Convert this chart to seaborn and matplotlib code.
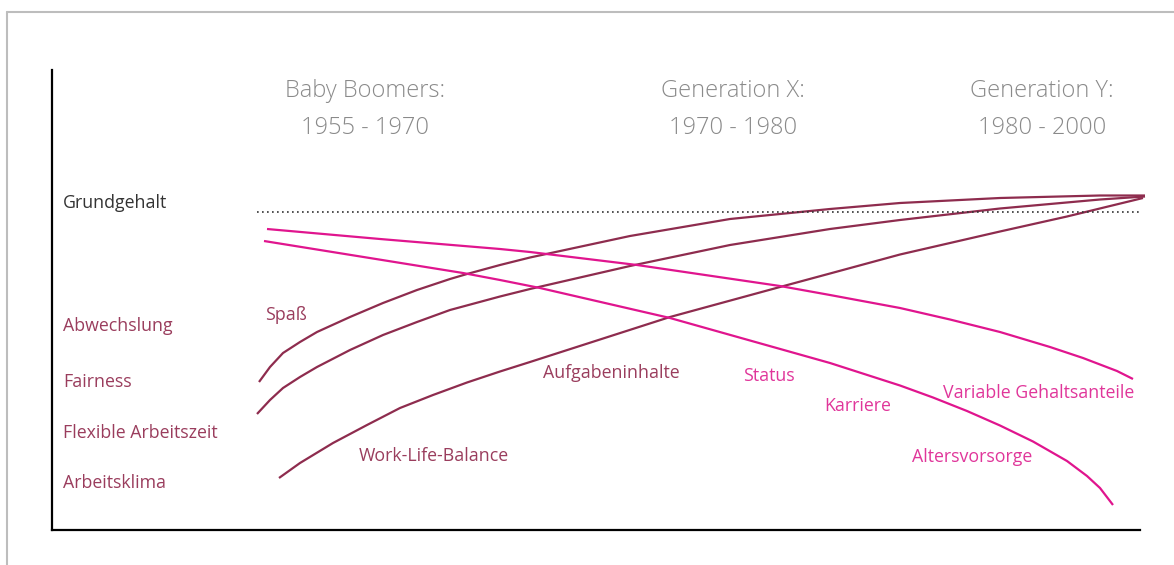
import matplotlib
matplotlib.use("Agg")
import matplotlib.pyplot as plt
from matplotlib.lines import Line2D
import seaborn as sns
import pandas as pd

# ---- data (in chart coordinates) ----
spass_x = [259, 270, 283, 300, 317, 350, 383, 417, 450, 467, 500, 530, 630, 730, 830, 900, 1000, 1100, 1145]
spass_y = [382, 367, 353, 342, 332, 317, 303, 290, 279, 274, 265, 257.5, 236, 219, 209, 203, 198, 195.5, 195.5]

fairness_x = [257, 270, 283, 300, 317, 350, 383, 417, 450, 500, 530, 630, 730, 830, 900, 1000, 1100, 1145]
fairness_y = [414, 400, 388, 377, 367, 350, 335, 322, 310, 296.5, 289, 266, 245, 229, 220, 208.5, 199.5, 196.5]

wlb_x = [279, 300, 333, 367, 400, 433, 467, 500, 530, 670, 780, 830, 900, 1000, 1067, 1143]
wlb_y = [478, 463, 443, 425, 408, 395, 382.5, 371.5, 362, 317, 287, 273.5, 254.5, 231.5, 216.5, 198]

var_x = [267, 380, 500, 530, 637, 780, 830, 900, 950, 1000, 1050, 1083, 1117, 1133]
var_y = [229, 239, 249, 252, 265, 286, 295, 308, 319.5, 332, 347, 358, 371, 379]

alt_x = [264, 463, 500, 540, 670, 830, 900, 933, 967, 1000, 1033, 1067, 1087, 1100, 1113]
alt_y = [241, 273, 280, 288, 318, 363, 385.5, 397.5, 411, 425.5, 441.5, 461, 476, 488, 505]

grund_x = [257, 1145]
grund_y = [212, 212]

headers = ["Baby Boomers:", "Generation X:", "Generation Y:"]
header_years = ["1955 - 1970", "1970 - 1980", "1980 - 2000"]
header_x = [365, 733, 1042]

left_labels = ["Abwechslung", "Fairness", "Flexible Arbeitszeit", "Arbeitsklima"]
left_label_y = [326, 382, 433, 483]

dark_labels = ["Spaß", "Work-Life-Balance", "Aufgabeninhalte"]
dark_label_x = [265, 359, 543]
dark_label_y = [315, 456, 373]

pink_labels = ["Status", "Karriere", "Variable Gehaltsanteile", "Altersvorsorge"]
pink_label_x = [743, 824, 943, 912]
pink_label_y = [376, 406, 393, 457]

# ---- style ----
sns.set_theme(style="white")
plt.rcParams["font.family"] = ["Open Sans", "DejaVu Sans"]

DARK = "#8e2c4e"
DARK_TXT = "#9a3d5d"
PINK = "#e0158e"
PINK_TXT = "#e0369a"
GRAY_TXT = "#8a8a8a"
FS = 12.8

W, H = 1174, 565
fig = plt.figure(figsize=(W / 100, H / 100), dpi=100)
fig.patch.set_facecolor("white")

# outer gray frame
fig.add_artist(Line2D([7 / W, 1.0], [1 - 12 / H, 1 - 12 / H], transform=fig.transFigure,
                      color="#bdbdbd", lw=1.5))
fig.add_artist(Line2D([7 / W, 7 / W], [0, 1 - 12 / H], transform=fig.transFigure,
                      color="#bdbdbd", lw=1.5))

ax = fig.add_axes([52 / W, 35 / H, (1140 - 52) / W, (530 - 70) / H])
ax.set_xlim(52, 1140)
ax.set_ylim(530, 70)
ax.set_facecolor("white")
for s in ["top", "right"]:
    ax.spines[s].set_visible(False)
for s in ["left", "bottom"]:
    ax.spines[s].set_color("black")
    ax.spines[s].set_linewidth(1.6)
ax.set_xticks([])
ax.set_yticks([])

def curve(xs, ys, color):
    df = pd.DataFrame({"x": xs, "y": ys})
    sns.lineplot(data=df, x="x", y="y", ax=ax, color=color, lw=1.6,
                 estimator=None, sort=False, clip_on=False,
                 solid_joinstyle="round", solid_capstyle="butt")

curve(spass_x, spass_y, DARK)
curve(fairness_x, fairness_y, DARK)
curve(wlb_x, wlb_y, DARK)
curve(var_x, var_y, PINK)
curve(alt_x, alt_y, PINK)

gdf = pd.DataFrame({"x": grund_x, "y": grund_y})
sns.lineplot(data=gdf, x="x", y="y", ax=ax, color="#333333", lw=1.2,
             linestyle=(0, (1, 2)), estimator=None)

ax.set_xlabel("")
ax.set_ylabel("")

# headers
for hx, h, yr in zip(header_x, headers, header_years):
    ax.text(hx, 91, h, ha="center", va="center", fontsize=17, color=GRAY_TXT,
            fontweight="light")
    ax.text(hx, 128, yr, ha="center", va="center", fontsize=17, color=GRAY_TXT,
            fontweight="light")

ax.text(63, 203, "Grundgehalt", ha="left", va="center", fontsize=FS, color="#333333")
for lab, ly in zip(left_labels, left_label_y):
    ax.text(63, ly, lab, ha="left", va="center", fontsize=FS, color=DARK_TXT)
for lab, lx, ly in zip(dark_labels, dark_label_x, dark_label_y):
    ax.text(lx, ly, lab, ha="left", va="center", fontsize=FS, color=DARK_TXT)
for lab, lx, ly in zip(pink_labels, pink_label_x, pink_label_y):
    ax.text(lx, ly, lab, ha="left", va="center", fontsize=FS, color=PINK_TXT)

fig.savefig("out.png", dpi=100, facecolor="white")
